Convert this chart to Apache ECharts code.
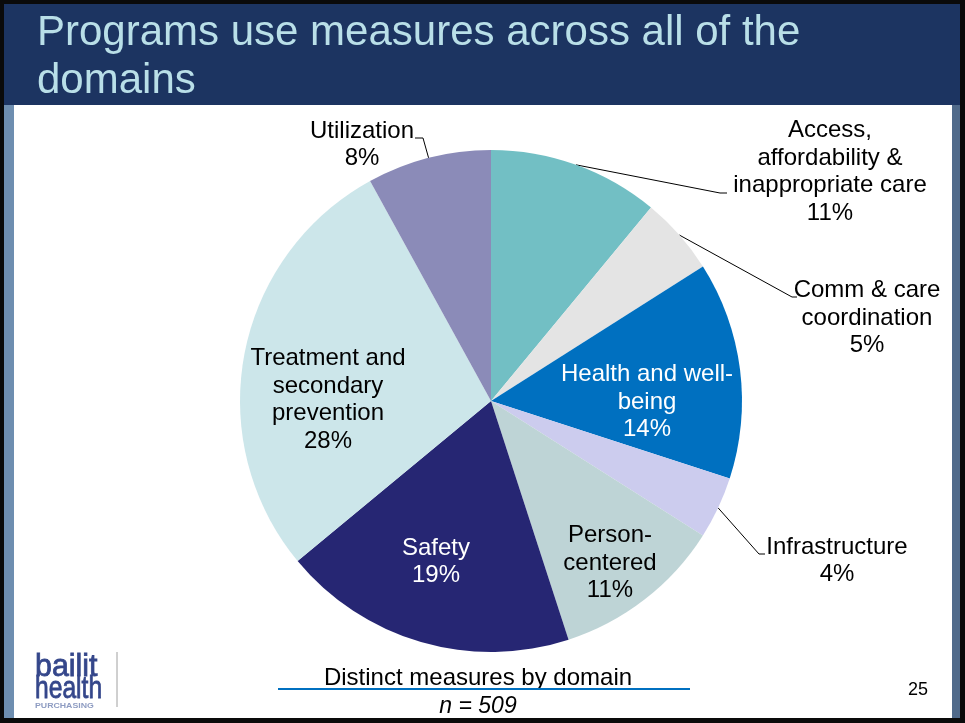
<!DOCTYPE html>
<html>
<head>
<meta charset="utf-8">
<script src="https://cdn.jsdelivr.net/npm/echarts@6/dist/echarts.min.js"></script>
<style>
  html, body { margin: 0; padding: 0; background: #fff; }
  #chart { width: 965px; height: 723px; }
</style>
</head>
<body>
<div id="chart"></div>
<script>
// Measure domains, in clockwise order from 12 o'clock
const domains = [
  'Access,\naffordability &\ninappropriate care',
  'Comm & care\ncoordination',
  'Health and well-\nbeing',
  'Infrastructure',
  'Person-\ncentered',
  'Safety',
  'Treatment and\nsecondary\nprevention',
  'Utilization'
];
// Share of distinct measures (percent)
const shares = [11, 5, 14, 4, 11, 19, 28, 8];
const sliceColors = ['#72BFC4', '#E4E4E4', '#0070C0', '#CCCCEE', '#BED4D6', '#262673', '#CCE6EA', '#8B8BB8'];
const labelColors = ['#000', '#000', '#fff', '#000', '#000', '#fff', '#000', '#000'];
const measureCount = 509;

// Pie geometry
const CX = 491, CY = 401, R = 251;
const FONT = '"Liberation Sans", Arial, Helvetica, sans-serif';

// Label centres relative to the pie centre; outside labels also carry
// their leader elbow and end points (relative to the centre as well).
const labelPlace = [
  { at: [339, -229], line: [[229, -208], [236, -208]] },
  { at: [376, -83],  line: [[301, -104], [306, -104]] },
  { at: [156, 1] },
  { at: [346, 160],  line: [[268, 153], [274, 153]] },
  { at: [119, 162] },
  { at: [-55, 161] },
  { at: [-163, -1] },
  { at: [-129, -256], line: [[-68, -263], [-76, -263]] }
];

const total = shares.reduce((a, b) => a + b, 0);
const midAngles = [];
{
  let acc = 0;
  shares.forEach(v => { midAngles.push((acc + v / 2) / total * Math.PI * 2); acc += v; });
}

const pieData = domains.map((name, i) => ({
  name: name,
  value: shares[i],
  itemStyle: { color: sliceColors[i] },
  label: {
    position: labelPlace[i].line ? 'outside' : 'inside',
    color: labelColors[i]
  },
  labelLine: { show: !!labelPlace[i].line }
}));

const chart = echarts.init(document.getElementById('chart'), null, { renderer: 'canvas' });

chart.setOption({
  animation: false,
  backgroundColor: '#ffffff',
  graphic: [
    // slide frame
    { type: 'rect', z: -10, shape: { x: 0, y: 0, width: 965, height: 723 }, style: { fill: '#0a0a0a' } },
    { type: 'rect', z: -9, shape: { x: 4, y: 4, width: 956, height: 714 }, style: { fill: '#ffffff' } },
    { type: 'rect', z: -8, shape: { x: 4, y: 4, width: 956, height: 101 }, style: { fill: '#1C3461' } },
    { type: 'rect', z: -8, shape: { x: 4, y: 105, width: 10, height: 613 }, style: { fill: '#6E8EB0' } },
    { type: 'rect', z: -8, shape: { x: 952, y: 105, width: 8, height: 613 }, style: { fill: '#506A8A' } },
    // title
    { type: 'text', left: 37, top: 12, style: { text: 'Programs use measures across all of the', fill: '#B9DFE8', font: '42px ' + FONT } },
    { type: 'text', left: 37, top: 60, style: { text: 'domains', fill: '#B9DFE8', font: '42px ' + FONT } },
    // caption
    { type: 'text', x: 478, y: 678, style: { text: 'Distinct measures by domain', fill: '#000', font: '24px ' + FONT, align: 'center', verticalAlign: 'middle' } },
    { type: 'line', shape: { x1: 278, y1: 689, x2: 690, y2: 689 }, style: { stroke: '#0070C0', lineWidth: 2 } },
    { type: 'text', x: 478, y: 707, style: { text: 'n = ' + measureCount, fill: '#000', font: 'italic 23px ' + FONT, align: 'center', verticalAlign: 'middle' } },
    // page number
    { type: 'text', x: 918, y: 690, style: { text: '25', fill: '#000', font: '18px ' + FONT, align: 'center', verticalAlign: 'middle' } },
    // logo
    { type: 'text', x: 35, y: 667, scaleX: 0.95, style: { text: 'bailit', fill: '#34468A', stroke: '#34468A', lineWidth: 0.8, font: '32px ' + FONT, verticalAlign: 'middle' } },
    { type: 'text', x: 35, y: 689, scaleX: 0.77, style: { text: 'health', fill: '#34468A', stroke: '#34468A', lineWidth: 0.8, font: '32px ' + FONT, verticalAlign: 'middle' } },
    { type: 'text', x: 35, y: 706, style: { text: 'PURCHASING', fill: '#8E9CC2', font: 'bold 7px ' + FONT, verticalAlign: 'middle', textShadowBlur: 0 }, scaleX: 1.25 },
    { type: 'line', shape: { x1: 117, y1: 652, x2: 117, y2: 707 }, style: { stroke: '#A0A0A0', lineWidth: 1 } }
  ],
  series: [{
    type: 'pie',
    center: [CX, CY],
    radius: [0, R],
    startAngle: 90,
    clockwise: true,
    avoidLabelOverlap: false,
    silent: true,
    itemStyle: { borderWidth: 0 },
    label: {
      show: true,
      fontFamily: FONT,
      fontSize: 24,
      lineHeight: 27.5,
      formatter: p => p.name + '\n' + p.value + '%'
    },
    labelLine: {
      show: true,
      lineStyle: { color: '#000', width: 1 }
    },
    labelLayout: function (p) {
      const i = p.dataIndex;
      const place = labelPlace[i];
      const out = {
        x: CX + place.at[0],
        y: CY + place.at[1],
        align: 'center',
        verticalAlign: 'middle'
      };
      if (place.line) {
        const a = midAngles[i];
        out.labelLinePoints = [
          [CX + R * Math.sin(a), CY - R * Math.cos(a)],
          [CX + place.line[0][0], CY + place.line[0][1]],
          [CX + place.line[1][0], CY + place.line[1][1]]
        ];
      }
      return out;
    },
    data: pieData
  }]
});
</script>
</body>
</html>
